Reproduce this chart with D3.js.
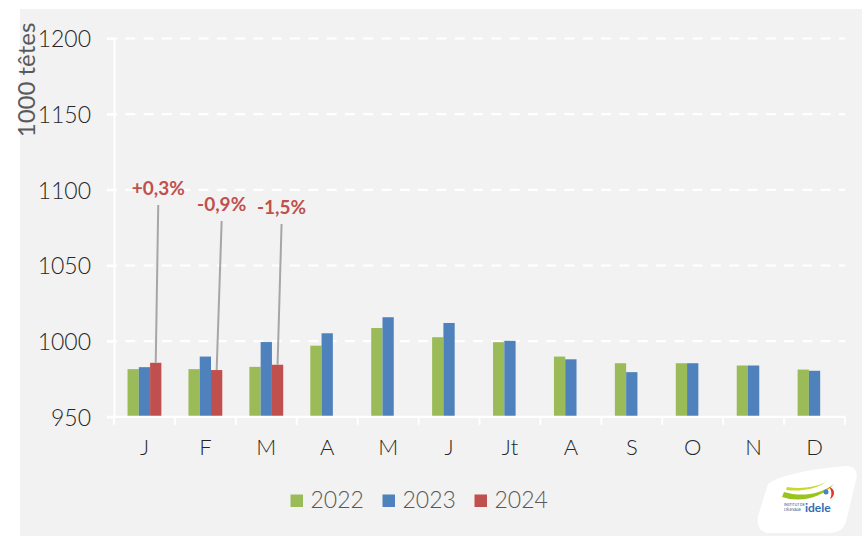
<!DOCTYPE html>
<html>
<head>
<meta charset="utf-8">
<script src="https://cdn.jsdelivr.net/npm/d3@7/dist/d3.min.js"></script>
<style>
  html, body { margin: 0; padding: 0; background: #ffffff; }
  svg { display: block; }
  text { font-family: "Lato", "Open Sans", "DejaVu Sans", sans-serif; }
</style>
</head>
<body>
<svg id="chart" width="862" height="536"></svg>
<script>
// Monthly herd size, thousand heads
const months = ["J", "F", "M", "A", "M", "J", "Jt", "A", "S", "O", "N", "D"];
const seriesNames = ["2022", "2023", "2024"];
const values2022 = [981.5, 981.5, 983.0, 997.0, 1008.7, 1002.6, 999.3, 989.8, 985.4, 985.4, 983.9, 981.2];
const values2023 = [982.8, 989.8, 999.4, 1005.2, 1015.8, 1012.0, 1000.2, 988.0, 979.5, 985.4, 983.9, 980.4];
const values2024 = [985.7, 980.9, 984.4];
const changeLabels = ["+0,3%", "-0,9%", "-1,5%"];
const yTicks = [950, 1000, 1050, 1100, 1150, 1200];
const yTitle = "1000 têtes";

const colors = { "2022": "#9bbb59", "2023": "#4f81bd", "2024": "#c0504d" };
const valuesBySeries = { "2022": values2022, "2023": values2023, "2024": values2024 };

const svg = d3.select("#chart");

// panel background
svg.append("rect").attr("x", 20).attr("y", 9).attr("width", 842).attr("height", 527).attr("fill", "#f2f2f2");

const plot = { left: 114, right: 845, top: 38.5, bottom: 416.8 };

const x = d3.scaleBand().domain(d3.range(months.length)).range([plot.left, plot.right]).paddingInner(0).paddingOuter(0);
const xSub = d3.scaleBand().domain(seriesNames).range([0, x.bandwidth()]).paddingInner(0).paddingOuter(1.2);
const y = d3.scaleLinear().domain([950, 1200]).range([plot.bottom, plot.top]);

// horizontal dashed grid
svg.append("g")
  .selectAll("line")
  .data(yTicks.filter(t => t > 950))
  .join("line")
  .attr("x1", plot.left - 7).attr("x2", plot.right)
  .attr("y1", d => y(d)).attr("y2", d => y(d))
  .attr("stroke", "#ffffff").attr("stroke-width", 2.2)
  .attr("stroke-dasharray", "10,8.3");

// y axis
const yAxis = svg.append("g")
  .attr("transform", `translate(${plot.left},0)`)
  .call(d3.axisLeft(y).tickValues(yTicks).tickSize(7).tickPadding(16).tickFormat(d3.format("d")));
yAxis.select(".domain").attr("stroke", "#ffffff").attr("stroke-width", 2);
yAxis.selectAll(".tick line").attr("stroke", "#ffffff").attr("stroke-width", 2);
yAxis.selectAll(".tick text")
  .attr("font-size", 23).attr("font-weight", 300).attr("fill", "#262626")
  .attr("dy", "0.36em")
  .style("font-family", "Lato, 'Open Sans', sans-serif");

// y axis title
svg.append("text")
  .attr("transform", `translate(35,${80}) rotate(-90)`)
  .attr("text-anchor", "middle")
  .attr("font-size", 24).attr("fill", "#595959")
  .text(yTitle);

// bars
const barGroups = svg.append("g");
seriesNames.forEach(name => {
  barGroups.append("g")
    .selectAll("rect")
    .data(valuesBySeries[name].map((v, i) => ({ i, v })))
    .join("rect")
    .attr("x", d => x(d.i) + xSub(name))
    .attr("width", xSub.bandwidth())
    .attr("y", d => y(d.v))
    .attr("height", d => y(950) - y(d.v))
    .attr("fill", colors[name]);
});

// x axis
const xAxis = svg.append("g")
  .attr("transform", `translate(0,${plot.bottom})`)
  .call(d3.axisBottom(x).tickSize(0).tickPadding(23).tickFormat(i => months[i]));
xAxis.select(".domain").remove();
xAxis.selectAll(".tick text")
  .attr("font-size", 22).attr("fill", "#262626")
  .attr("font-weight", 300);
svg.append("line")
  .attr("x1", plot.left - 7).attr("x2", plot.right)
  .attr("y1", plot.bottom).attr("y2", plot.bottom)
  .attr("stroke", "#ffffff").attr("stroke-width", 2.2);
svg.append("g")
  .selectAll("line")
  .data(d3.range(months.length + 1))
  .join("line")
  .attr("x1", i => plot.left + i * x.step()).attr("x2", i => plot.left + i * x.step())
  .attr("y1", plot.bottom).attr("y2", plot.bottom + 8)
  .attr("stroke", "#ffffff").attr("stroke-width", 2);

// change labels with leader lines to the 2024 bars
const labelBaselines = [195, 211, 214];
const labelShift = [2.5, 5, 4];
const annot = svg.append("g");
changeLabels.forEach((lab, i) => {
  const bx = x(i) + xSub("2024") + xSub.bandwidth() / 2;
  const lx = bx + labelShift[i];
  annot.append("line")
    .attr("x1", lx).attr("y1", labelBaselines[i] + 10)
    .attr("x2", bx).attr("y2", y(values2024[i]))
    .attr("stroke", "#a6a6a6").attr("stroke-width", 2);
  annot.append("text")
    .attr("x", lx).attr("y", labelBaselines[i])
    .attr("text-anchor", "middle")
    .attr("font-size", 19).attr("font-weight", 700)
    .attr("fill", "#c0504d")
    .text(lab);
});

// legend
const legendX = [290.5, 382.5, 474.5];
const legend = svg.append("g");
seriesNames.forEach((name, i) => {
  legend.append("rect")
    .attr("x", legendX[i]).attr("y", 494.5).attr("width", 12.5).attr("height", 12.5)
    .attr("fill", colors[name]);
  legend.append("text")
    .attr("x", legendX[i] + 20).attr("y", 508)
    .attr("font-size", 23).attr("font-weight", 300).attr("fill", "#595959")
    .text(name);
});

// institute logo
const logo = svg.append("g");
logo.append("path")
  .attr("d", "M768,484 C780,474 820,468 846,466 C856,466 858,472 856,480 L846,522 C843,531 836,533 826,533 L770,533 C760,533 757,526 758,516 Z")
  .attr("fill", "#ffffff");
logo.append("path")
  .attr("d", "M782,497 C800,503 822,498 834,484 C820,495 800,497 784,492 Z")
  .attr("fill", "#9bc31f");
logo.append("path")
  .attr("d", "M786,490 C800,492 816,489 826,482 C814,488 800,489 787,487 Z")
  .attr("fill", "#c8d92c");
logo.append("circle").attr("cx", 826).attr("cy", 492).attr("r", 2.5).attr("fill", "#4f81bd");
logo.append("path").attr("d", "M829,487 C835,488 836,496 830,499 C832,495 832,491 829,487 Z").attr("fill", "#e5322d");
logo.append("text").attr("x", 784).attr("y", 506).attr("font-size", 3.5).attr("fill", "#1d4f91").text("INSTITUT DE");
logo.append("text").attr("x", 784).attr("y", 511).attr("font-size", 3.5).attr("fill", "#1d4f91").text("L'ÉLEVAGE");
logo.append("text").attr("x", 805).attr("y", 512).attr("font-size", 12).attr("font-weight", 700)
  .attr("fill", "#2f6db5").text("idele");
</script>
</body>
</html>
